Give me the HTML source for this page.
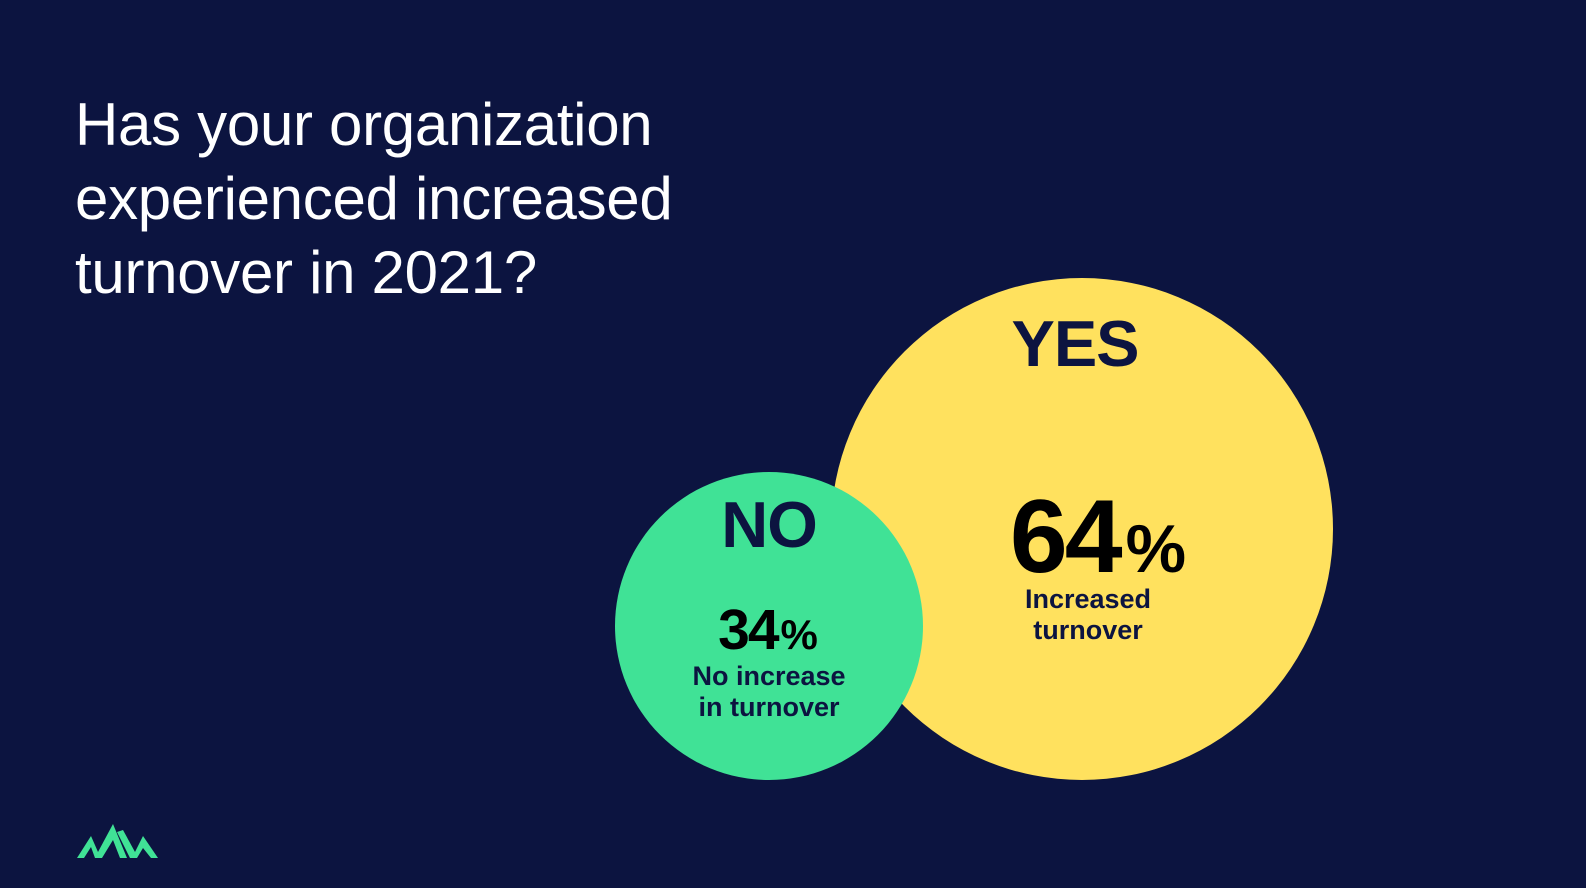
<!DOCTYPE html>
<html><head><meta charset="utf-8"><style>
html,body{margin:0;padding:0}
body{width:1586px;height:888px;background:#0c1440;position:relative;overflow:hidden;font-family:"Liberation Sans",Arial,sans-serif}
.t{position:absolute;left:75px;top:88px;color:#fff;font-size:60px;line-height:74px;letter-spacing:-0.3px}
.c{position:absolute;border-radius:50%}
.a{position:absolute;text-align:center;font-weight:bold;transform:translateX(-50%);white-space:nowrap}
</style></head><body>
<div class="t">Has your organization<br>experienced increased<br>turnover in 2021?</div>
<div class="c" style="left:831px;top:278px;width:502px;height:502px;background:#ffe15e"></div>
<div class="c" style="left:615px;top:472px;width:308px;height:308px;background:#40e296"></div>
<div class="a" style="left:1075px;top:306px;font-size:65px;color:#0c1440;letter-spacing:-1px">YES</div>
<div class="a" style="left:769px;top:487px;font-size:65px;color:#0c1440;letter-spacing:-1px">NO</div>
<div class="a" style="left:1098px;top:478px;font-size:104px;color:#000;letter-spacing:-3px">64<span style="font-size:68px;letter-spacing:0;margin-left:6px">%</span></div>
<div class="a" style="left:1088px;top:584px;font-size:27px;line-height:31px;color:#0c1440">Increased<br>turnover</div>
<div class="a" style="left:768px;top:597px;font-size:57px;color:#000;letter-spacing:-2px">34<span style="font-size:42px;letter-spacing:0;margin-left:3px">%</span></div>
<div class="a" style="left:769px;top:661px;font-size:27px;line-height:31px;color:#0c1440">No increase<br>in turnover</div>
<svg style="position:absolute;left:75px;top:822px" width="86" height="38" viewBox="0 0 86 38">
<polygon fill="#40e296" points="2,36 16,14 23,30 38,2 52,36 45,36 38,18 27,36 20,36 16,25 9,36"/>
<polygon fill="#40e296" points="42,10 48,8 60,30 68,14 83,36 76,36 68,26 62,36 55,36"/>
</svg>
</body></html>
